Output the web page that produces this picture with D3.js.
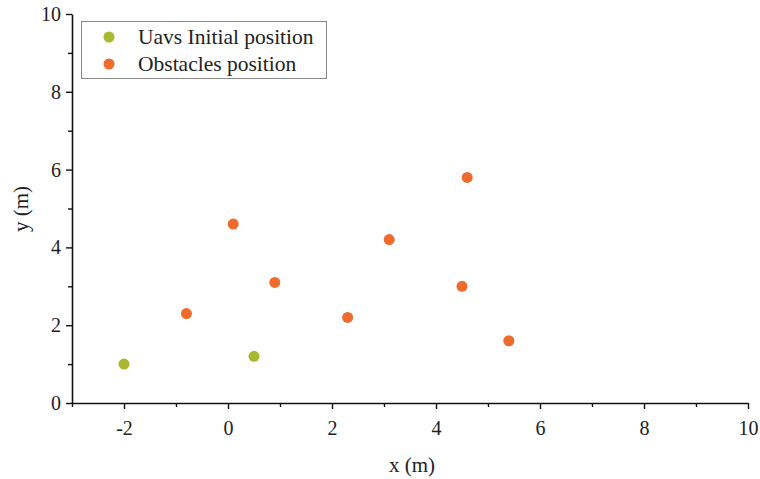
<!DOCTYPE html>
<html><head><meta charset="utf-8">
<script src="https://cdn.jsdelivr.net/npm/d3@7"></script>
<style>body{margin:0;background:#fff}svg{display:block}svg text{font-family:'Liberation Serif','Times New Roman',serif}</style>
</head><body>
<svg id="c" width="760" height="479"></svg>
<script>
const uavX = [-2, 0.5];
const uavY = [1.0, 1.2];
const obsX = [-0.8, 0.1, 0.9, 2.3, 3.1, 4.6, 4.5, 5.4];
const obsY = [2.3, 4.6, 3.1, 2.2, 4.2, 5.8, 3.0, 1.6];
const xTicks = [-2, 0, 2, 4, 6, 8, 10];
const yTicks = [0, 2, 4, 6, 8, 10];
const legendLabels = ["Uavs Initial position", "Obstacles position"];
const colors = ["#a8b92f", "#ee6a2d"];

const svg = d3.select("#c");
const L = 72, R = 748, T = 14, B = 403;
const x = d3.scaleLinear().domain([-3, 10]).range([L, R]);
const y = d3.scaleLinear().domain([0, 10]).range([B, T]);
const font = "'Liberation Serif','Times New Roman',serif";
const fmt = d => String(d);

const xMinor = d3.range(-3, 10, 2);
const yMinor = d3.range(1, 10, 2);
svg.append("g").attr("transform", `translate(0,${B})`)
  .call(d3.axisBottom(x).tickValues(xMinor).tickSize(4).tickFormat(""))
  .call(g => g.select(".domain").remove());
svg.append("g").attr("transform", `translate(${L},0)`)
  .call(d3.axisLeft(y).tickValues(yMinor).tickSize(4).tickFormat(""))
  .call(g => g.select(".domain").remove());

const xa = svg.append("g").attr("transform", `translate(0,${B})`)
  .call(d3.axisBottom(x).tickValues(xTicks).tickSize(6).tickSizeOuter(0).tickPadding(12).tickFormat(fmt));
const ya = svg.append("g").attr("transform", `translate(${L},0)`)
  .call(d3.axisLeft(y).tickValues(yTicks).tickSize(6).tickSizeOuter(0).tickPadding(5).tickFormat(fmt));
[xa, ya].forEach(a => {
  a.attr("font-family", font).attr("font-size", 20);
  a.selectAll("text").style("font-family", font).style("font-size", "20px").attr("fill", "#222");
  a.select(".domain").attr("stroke", "#111").attr("stroke-width", 1.6);
});
svg.selectAll("g line").attr("stroke", "#111").attr("stroke-width", 1.4);

svg.append("text").attr("x", 412).attr("y", 472).attr("text-anchor", "middle")
  .style("font-size", "21px").attr("fill", "#222").text("x (m)");
svg.append("text").attr("transform", "translate(28,209) rotate(-90)").attr("text-anchor", "middle")
  .style("font-size", "21px").attr("fill", "#222").text("y (m)");

svg.append("g").selectAll("circle").data(uavX.map((d, i) => [d, uavY[i]])).join("circle")
  .attr("cx", d => x(d[0])).attr("cy", d => y(d[1])).attr("r", 5.5).attr("fill", colors[0]);
svg.append("g").selectAll("circle").data(obsX.map((d, i) => [d, obsY[i]])).join("circle")
  .attr("cx", d => x(d[0])).attr("cy", d => y(d[1])).attr("r", 5.5).attr("fill", colors[1]);

const lg = svg.append("g");
lg.append("rect").attr("x", 81.5).attr("y", 21.5).attr("width", 245).attr("height", 57)
  .attr("fill", "#fff").attr("stroke", "#888").attr("stroke-width", 1);
legendLabels.forEach((t, i) => {
  lg.append("circle").attr("cx", 109).attr("cy", 37 + i * 27).attr("r", 5.5).attr("fill", colors[i]);
  lg.append("text").attr("x", 138).attr("y", 44 + i * 27)
    .style("font-size", "21.5px").attr("fill", "#222").text(t);
});
</script>
</body></html>
